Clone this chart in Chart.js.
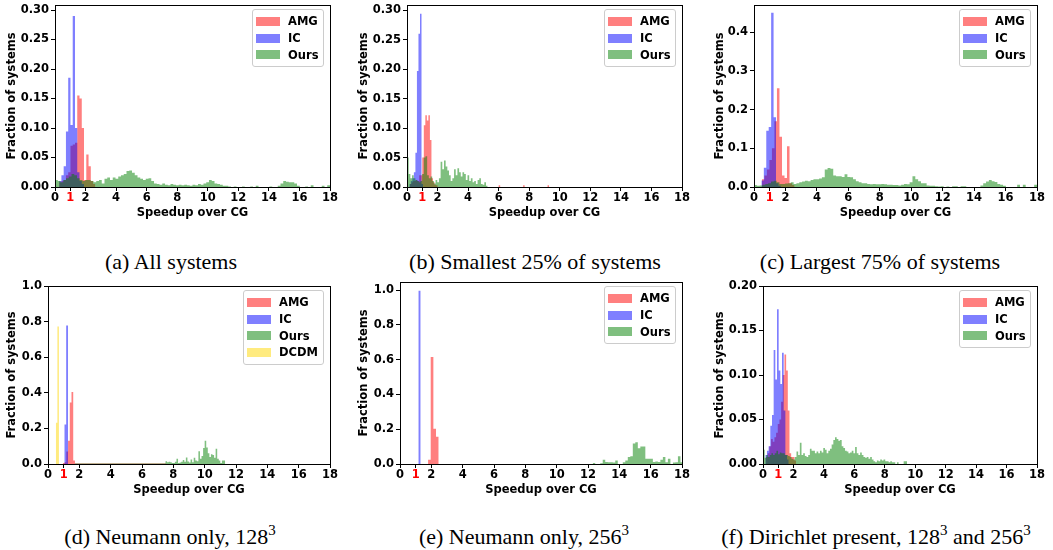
<!DOCTYPE html>
<html><head><meta charset="utf-8">
<script src="https://cdn.jsdelivr.net/npm/chart.js@4.4.1/dist/chart.umd.min.js"></script>
<style>
html,body{margin:0;padding:0;background:#fff;}
body{width:1053px;height:550px;overflow:hidden;position:relative;}
canvas{position:absolute;}
.cap{position:absolute;width:420px;font-family:'Liberation Serif','Times New Roman',serif;font-size:22px;line-height:22px;text-align:center;white-space:nowrap;color:#000;}
.cap sup{font-size:15px;line-height:0;vertical-align:baseline;position:relative;top:-9px;}
.leg{position:absolute;background:rgba(255,255,255,0.8);border:1px solid #ccc;border-radius:3px;padding:3px 5px 3px 3px;font-family:'DejaVu Sans';font-weight:bold;font-size:11.5px;color:#000;}
.leg .row{height:16.7px;display:flex;align-items:center;white-space:nowrap;}
.leg .sw{width:24px;height:9px;margin-right:8px;flex:none;}
</style></head><body>
<script>
// ---------- tick labels ----------
const X_TICKS = [0, 1, 2, 4, 6, 8, 10, 12, 14, 16, 18];
const Y_TICKS_A = [0, 0.05, 0.10, 0.15, 0.20, 0.25, 0.30];
const Y_TICKS_B = [0, 0.05, 0.10, 0.15, 0.20, 0.25, 0.30];
const Y_TICKS_C = [0, 0.1, 0.2, 0.3, 0.4];
const Y_TICKS_D = [0, 0.2, 0.4, 0.6, 0.8, 1.0];
const Y_TICKS_E = [0, 0.2, 0.4, 0.6, 0.8, 1.0];
const Y_TICKS_F = [0, 0.05, 0.10, 0.15, 0.20];
const SERIES = ['AMG', 'IC', 'Ours', 'DCDM'];

// ---------- histogram bins: [first bin edge, bin width] and bin heights ----------
// (a) All systems
const A_AMG_BINS = [0.272, 0.148];
const A_AMG = [0.008, 0.01, 0.012, 0.02, 0.025, 0.07, 0.072, 0.075, 0.155, 0.15, 0.1, 0.012, 0.055, 0.035, 0.01, 0.005];
const A_IC_BINS = [0.272, 0.148];
const A_IC = [0.01, 0.02, 0.035, 0.094, 0.185, 0.105, 0.29, 0.1, 0.025, 0.01, 0.005];
const A_OURS_BINS = [0, 0.18];
const A_OURS = [
  0.012, 0.01, 0.008, 0.012, 0.015, 0.018, 0.022, 0.02, 0.015, 0.012,
  0.01, 0.012, 0.012, 0.01, 0.008, 0.01, 0.012, 0.006, 0.014, 0.016,
  0.012, 0.016, 0.014, 0.018, 0.02, 0.022, 0.027, 0.028, 0.024, 0.02,
  0.016, 0.014, 0.012, 0.014, 0.015, 0.01, 0.006, 0.005, 0.004, 0.006,
  0.004, 0.003, 0.005, 0.004, 0.003, 0.004, 0.003, 0.004, 0.003, 0.002,
  0.004, 0.003, 0.005, 0.004, 0.006, 0.008, 0.012, 0.01, 0.006, 0.005,
  0.004, 0.002, 0.002, 0.001, 0, 0.001, 0, 0, 0.001, 0,
  0, 0.001, 0, 0.002, 0, 0, 0, 0, 0.001, 0,
  0, 0.002, 0.006, 0.01, 0.009, 0.008, 0.008, 0.006, 0.002, 0,
  0, 0.001, 0, 0.003, 0, 0, 0, 0.002, 0, 0.003];

// (b) Smallest 25% of systems
const B_AMG_BINS = [0.2, 0.1];
const B_AMG = [
  0.005, 0.008, 0.01, 0.01, 0.012, 0.01, 0.02, 0.02,
  0.05, 0.105, 0.122, 0.113, 0.122, 0.08, 0.015,
  0.008, 0.004, 0.003,
  0, 0, 0, 0, 0, 0, 0, 0, 0, 0, 0, 0, 0, 0, 0, 0, 0, 0, 0, 0,
  0, 0, 0, 0, 0, 0, 0, 0, 0, 0, 0, 0, 0, 0, 0, 0, 0, 0, 0, 0,
  0.003,
  0, 0, 0, 0, 0, 0, 0, 0, 0, 0, 0, 0, 0, 0, 0,
  0.003,
  0, 0, 0, 0, 0, 0, 0, 0, 0, 0, 0, 0, 0, 0, 0,
  0.003];
const B_IC_BINS = [0.15, 0.1];
const B_IC = [0.005, 0.01, 0.015, 0.025, 0.058, 0.197, 0.26, 0.294, 0.005];
const B_OURS_BINS = [0, 0.11];
const B_OURS = [
  0.05, 0.022, 0.015, 0.02, 0.015, 0.012, 0.01, 0.008, 0.01, 0.022,
  0.05, 0.052, 0.02, 0.015, 0.018, 0.01, 0.006, 0.012, 0.008, 0.015,
  0.043, 0.03, 0.045, 0.035, 0.028, 0.02, 0.01, 0.015, 0.03, 0.02,
  0.032, 0.025, 0.018, 0.025, 0.022, 0.012, 0.02, 0.01, 0.015, 0.008,
  0.01, 0.005, 0.012, 0.015, 0.005, 0.004, 0.008, 0.002];

// (c) Largest 75% of systems
const C_AMG_BINS = [0.5, 0.16];
const C_AMG = [0.02, 0.03, 0.045, 0.07, 0.1, 0.17, 0.255, 0.13, 0.03, 0.023, 0.105, 0.01, 0.005];
const C_IC_BINS = [0.47, 0.155];
const C_IC = [0.017, 0.05, 0.145, 0.155, 0.45, 0.18, 0.01, 0.003];
const C_OURS_BINS = [0, 0.18];
const C_OURS = [
  0.005, 0.003, 0.004, 0.006, 0.008, 0.01, 0.014, 0.016, 0.012, 0.008,
  0.008, 0.009, 0.01, 0.012, 0.008, 0.01, 0.012, 0.014, 0.016, 0.015,
  0.018, 0.02, 0.02, 0.022, 0.025, 0.045, 0.049, 0.047, 0.03, 0.028,
  0.028, 0.026, 0.033, 0.026, 0.025, 0.02, 0.015, 0.012, 0.01, 0.01,
  0.008, 0.007, 0.008, 0.007, 0.007, 0.008, 0.007, 0.006, 0.006, 0.005,
  0.005, 0.004, 0.006, 0.008, 0.007, 0.012, 0.028, 0.02, 0.015, 0.01,
  0.01, 0.004, 0.003, 0.003, 0.002, 0.001, 0.002, 0, 0.001, 0,
  0.002, 0.002, 0, 0.002, 0.002, 0, 0, 0, 0, 0,
  0.004, 0.01, 0.014, 0.018, 0.015, 0.013, 0.008, 0.006, 0.003, 0,
  0, 0, 0, 0.006, 0, 0.006, 0, 0, 0, 0.006];

// (d) Neumann only, 128^3
const D_AMG_BINS = [0.95, 0.11];
const D_AMG = [0.005, 0.01, 0.07, 0.13, 0.345, 0.405, 0.02,
  0.003, 0.003, 0.003, 0.003, 0.003, 0.003, 0.003, 0.003, 0.003, 0.003,
  0.003, 0.003, 0.003, 0.003, 0.003, 0.003, 0.003, 0.003, 0.003, 0.003,
  0.003, 0.003, 0.003, 0.003, 0.003, 0.003, 0.003, 0.003, 0.003, 0.003,
  0.003, 0.003, 0.003, 0.003, 0.003, 0.003, 0.003, 0.003, 0.003, 0.003,
  0.003, 0.003, 0.003, 0.003, 0.003, 0.003, 0.003, 0.003, 0.003, 0.003,
  0.003, 0.003, 0.003];
const D_IC_BINS = [1.04, 0.12];
const D_IC = [0.222, 0.778];
const D_DCDM_BINS = [0.5, 0.1];
const D_DCDM = [0.232, 0.772];
const D_OURS_BINS = [1.7, 0.1];
const D_OURS = [
  0.003, 0.003, 0.003, 0.003, 0.003, 0.003, 0.003, 0.003, 0.003, 0.003,
  0.003, 0.003, 0.003, 0.003, 0.003, 0.003, 0.003, 0.003, 0.003, 0.003,
  0.003, 0.003, 0.003, 0.003, 0.003, 0.003, 0.003, 0.003, 0.003, 0.003,
  0.003, 0.003, 0.003, 0.003, 0.003, 0.003, 0.003, 0.003, 0.003, 0.003,
  0.003, 0.003, 0.003, 0.003, 0.003, 0.003, 0.003, 0.003, 0.003, 0.003,
  0.003, 0.003, 0.003, 0.003, 0.003, 0.003, 0.003, 0.003,
  0.015, 0.01, 0.012, 0.01, 0.006, 0.005, 0.012, 0.03, 0.006, 0.008,
  0.012, 0.022, 0.012, 0.037, 0.014, 0.008, 0.025, 0.01, 0.035, 0.02,
  0.015, 0.071, 0.03, 0.045, 0.09, 0.131, 0.093, 0.06, 0.04, 0.055,
  0.05, 0.035, 0.086, 0.03, 0.02, 0.005, 0.02, 0.02, 0];

// (e) Neumann only, 256^3
const E_AMG_BINS = [1.79, 0.17];
const E_AMG = [0.025, 0.615, 0.203, 0.157];
const E_IC_BINS = [1.17, 0.15];
const E_IC = [0.997];
const E_OURS_BINS = [12.3, 0.16];
const E_OURS = [
  0.006, 0, 0, 0.005, 0.025, 0.012, 0.01, 0.01, 0.008, 0.02,
  0, 0, 0.01, 0.02, 0.04, 0.045, 0.118, 0.125, 0.09, 0.1,
  0.1, 0.03, 0.03, 0.03, 0.012, 0.015, 0.012, 0.025, 0.04, 0.01,
  0.03, 0, 0.008, 0.01, 0.045, 0.01];

// (f) Dirichlet present, 128^3 and 256^3
const F_AMG_BINS = [0.2, 0.11];
const F_AMG = [0.008, 0.012, 0.02, 0.028, 0.025, 0.03, 0.035, 0.045, 0.05, 0.07, 0.1, 0.123, 0.105, 0.06, 0.012, 0.008, 0.008, 0.004];
const F_IC_BINS = [0.15, 0.11];
const F_IC = [0.01, 0.015, 0.02, 0.043, 0.055, 0.128, 0.095, 0.174, 0.105, 0.09, 0.125, 0.06, 0.01, 0.005];
const F_OURS_BINS = [0, 0.11];
const F_OURS = [
  0.016, 0.007, 0.01, 0.008, 0.01, 0.012, 0.01, 0.012, 0.015, 0.011,
  0.013, 0.012, 0.012, 0.01, 0.01, 0.009, 0.008, 0.006, 0.005, 0.008,
  0.014, 0.01, 0.024, 0.01, 0.012, 0.009, 0.008, 0.01, 0.017, 0.015,
  0.015, 0.012, 0.014, 0.012, 0.015, 0.013, 0.018, 0.016, 0.012, 0.015,
  0.017, 0.022, 0.027, 0.03, 0.028, 0.026, 0.027, 0.02, 0.018, 0.015,
  0.014, 0.012, 0.013, 0.015, 0.012, 0.019, 0.012, 0.01, 0.013, 0.01,
  0.008, 0.007, 0.008, 0.006, 0.008, 0.005, 0.003, 0.002, 0.004, 0.003,
  0.005, 0.004, 0.005, 0.003, 0.003, 0.002, 0.003, 0.002, 0.002, 0,
  0.002, 0, 0, 0, 0.003, 0.003, 0];

// ---------- styles ----------
const COLORS = {AMG: 'rgba(255,0,0,0.5)', IC: 'rgba(0,0,255,0.5)', Ours: 'rgba(0,128,0,0.5)', DCDM: 'rgba(255,215,0,0.5)'};
const DRAW_ORDER = {AMG: 4, IC: 3, Ours: 2, DCDM: 1};
const FONT = {family: 'DejaVu Sans', weight: 'bold', size: 11.5, lineHeight: 1.2};

const PANELS = [
  {L: 55, R: 330, T: 5, B: 187, ytc: 12, ymax: 0.3085, yticks: Y_TICKS_A, dec: 2, cap: '(a) All systems', capX: 171, capY: 269,
   series: [['AMG', A_AMG_BINS, A_AMG], ['IC', A_IC_BINS, A_IC], ['Ours', A_OURS_BINS, A_OURS]]},
  {L: 407, R: 682, T: 5, B: 187, ytc: 364, ymax: 0.309, yticks: Y_TICKS_B, dec: 2, cap: '(b) Smallest 25% of systems', capX: 535, capY: 269,
   series: [['AMG', B_AMG_BINS, B_AMG], ['IC', B_IC_BINS, B_IC], ['Ours', B_OURS_BINS, B_OURS]]},
  {L: 754, R: 1037, T: 5, B: 187, ytc: 719.5, ymax: 0.47, yticks: Y_TICKS_C, dec: 1, cap: '(c) Largest 75% of systems', capX: 880, capY: 269,
   series: [['AMG', C_AMG_BINS, C_AMG], ['IC', C_IC_BINS, C_IC], ['Ours', C_OURS_BINS, C_OURS]]},
  {L: 48, R: 330, T: 286, B: 464, ytc: 12, ymax: 1.0, yticks: Y_TICKS_D, dec: 1, cap: '(d) Neumann only, 128<sup>3</sup>', capX: 170, capY: 544,
   series: [['AMG', D_AMG_BINS, D_AMG], ['IC', D_IC_BINS, D_IC], ['Ours', D_OURS_BINS, D_OURS], ['DCDM', D_DCDM_BINS, D_DCDM]]},
  {L: 400, R: 682, T: 282, B: 464, ytc: 364, ymax: 1.047, yticks: Y_TICKS_E, dec: 1, cap: '(e) Neumann only, 256<sup>3</sup>', capX: 524, capY: 544,
   series: [['AMG', E_AMG_BINS, E_AMG], ['IC', E_IC_BINS, E_IC], ['Ours', E_OURS_BINS, E_OURS]]},
  {L: 763, R: 1037, T: 286, B: 464, ytc: 719.5, ymax: 0.20, yticks: Y_TICKS_F, dec: 2, cap: '(f) Dirichlet present, 128<sup>3</sup> and 256<sup>3</sup>', capX: 876, capY: 544,
   series: [['AMG', F_AMG_BINS, F_AMG], ['IC', F_IC_BINS, F_IC], ['Ours', F_OURS_BINS, F_OURS]]}
];

// histogram as a stepped, filled outline: each point starts a bin, the last point closes it
function histPoints(bins, heights) {
  const [start, width] = bins;
  const pts = heights.map((h, i) => ({x: +(start + i * width).toFixed(4), y: h}));
  pts.push({x: +(start + heights.length * width).toFixed(4), y: 0});
  return pts;
}

const framePlugin = {
  id: 'frame',
  afterDatasetsDraw(chart) {
    const a = chart.chartArea, ctx = chart.ctx;
    ctx.save();
    ctx.strokeStyle = '#000';
    ctx.lineWidth = 1;
    ctx.strokeRect(Math.round(a.left) + 0.5, Math.round(a.top) + 0.5, Math.round(a.right) - Math.round(a.left), Math.round(a.bottom) - Math.round(a.top));
    ctx.restore();
  }
};

const PAD_TOP = 12, PAD_RIGHT = 12, X_AXIS_H = 33;

PANELS.forEach(p => {
  const cx = Math.round(p.ytc - FONT.size * FONT.lineHeight / 2);
  const cy = p.T - PAD_TOP;
  const cw = p.R + PAD_RIGHT - cx;
  const ch = p.B + X_AXIS_H - cy;
  const yw = p.L - cx;
  const cv = document.createElement('canvas');
  cv.width = cw; cv.height = ch;
  cv.style.left = cx + 'px'; cv.style.top = cy + 'px';
  cv.style.width = cw + 'px'; cv.style.height = ch + 'px';
  document.body.appendChild(cv);

  new Chart(cv, {
    type: 'line',
    data: {
      datasets: p.series.map(([name, bins, h]) => ({
        label: name,
        data: histPoints(bins, h),
        stepped: true,
        fill: 'origin',
        backgroundColor: COLORS[name],
        borderColor: 'rgba(0,0,0,0)',
        borderWidth: 0,
        pointRadius: 0,
        pointHoverRadius: 0,
        order: DRAW_ORDER[name]
      }))
    },
    options: {
      responsive: false,
      animation: false,
      devicePixelRatio: 1,
      events: [],
      layout: {padding: {left: 0, top: PAD_TOP, right: PAD_RIGHT, bottom: 0}},
      plugins: {legend: {display: false}, tooltip: {enabled: false}},
      scales: {
        x: {
          type: 'linear', min: 0, max: 18,
          afterBuildTicks: s => { s.ticks = X_TICKS.map(v => ({value: v})); },
          afterFit: s => { s.height = X_AXIS_H; },
          ticks: {autoSkip: false, maxRotation: 0, minRotation: 0, padding: 0, font: FONT,
                  color: c => (c.tick && c.tick.value === 1) ? '#ff0000' : '#000',
                  callback: v => String(v)},
          grid: {drawOnChartArea: false, drawTicks: true, tickLength: 4, color: '#000', lineWidth: 1},
          border: {display: false},
          title: {display: true, text: 'Speedup over CG', color: '#000', font: FONT, padding: 0}
        },
        y: {
          type: 'linear', min: 0, max: p.ymax,
          afterBuildTicks: s => { s.ticks = p.yticks.map(v => ({value: v})); },
          afterFit: s => { s.width = yw; },
          ticks: {padding: 2, font: FONT, color: '#000', callback: v => Number(v).toFixed(p.dec)},
          grid: {drawOnChartArea: false, drawTicks: true, tickLength: 4, color: '#000', lineWidth: 1},
          border: {display: false},
          title: {display: true, text: 'Fraction of systems', color: '#000', font: FONT, padding: 0}
        }
      }
    },
    plugins: [framePlugin]
  });

  // legend (upper right, inside the axes)
  const leg = document.createElement('div');
  leg.className = 'leg';
  SERIES.filter(n => p.series.some(s => s[0] === n)).forEach(n => {
    const row = document.createElement('div');
    row.className = 'row';
    const sw = document.createElement('span');
    sw.className = 'sw';
    sw.style.background = COLORS[n];
    const tx = document.createElement('span');
    tx.textContent = n;
    row.appendChild(sw); row.appendChild(tx);
    leg.appendChild(row);
  });
  document.body.appendChild(leg);
  leg.style.top = (p.T + 4) + 'px';
  leg.style.left = (p.R - 6 - leg.offsetWidth) + 'px';

  // caption
  const cap = document.createElement('div');
  cap.className = 'cap';
  cap.innerHTML = p.cap;
  cap.style.left = (p.capX - 210) + 'px';
  cap.style.top = (p.capY - 18.4) + 'px';
  document.body.appendChild(cap);
});
</script>
</body></html>
